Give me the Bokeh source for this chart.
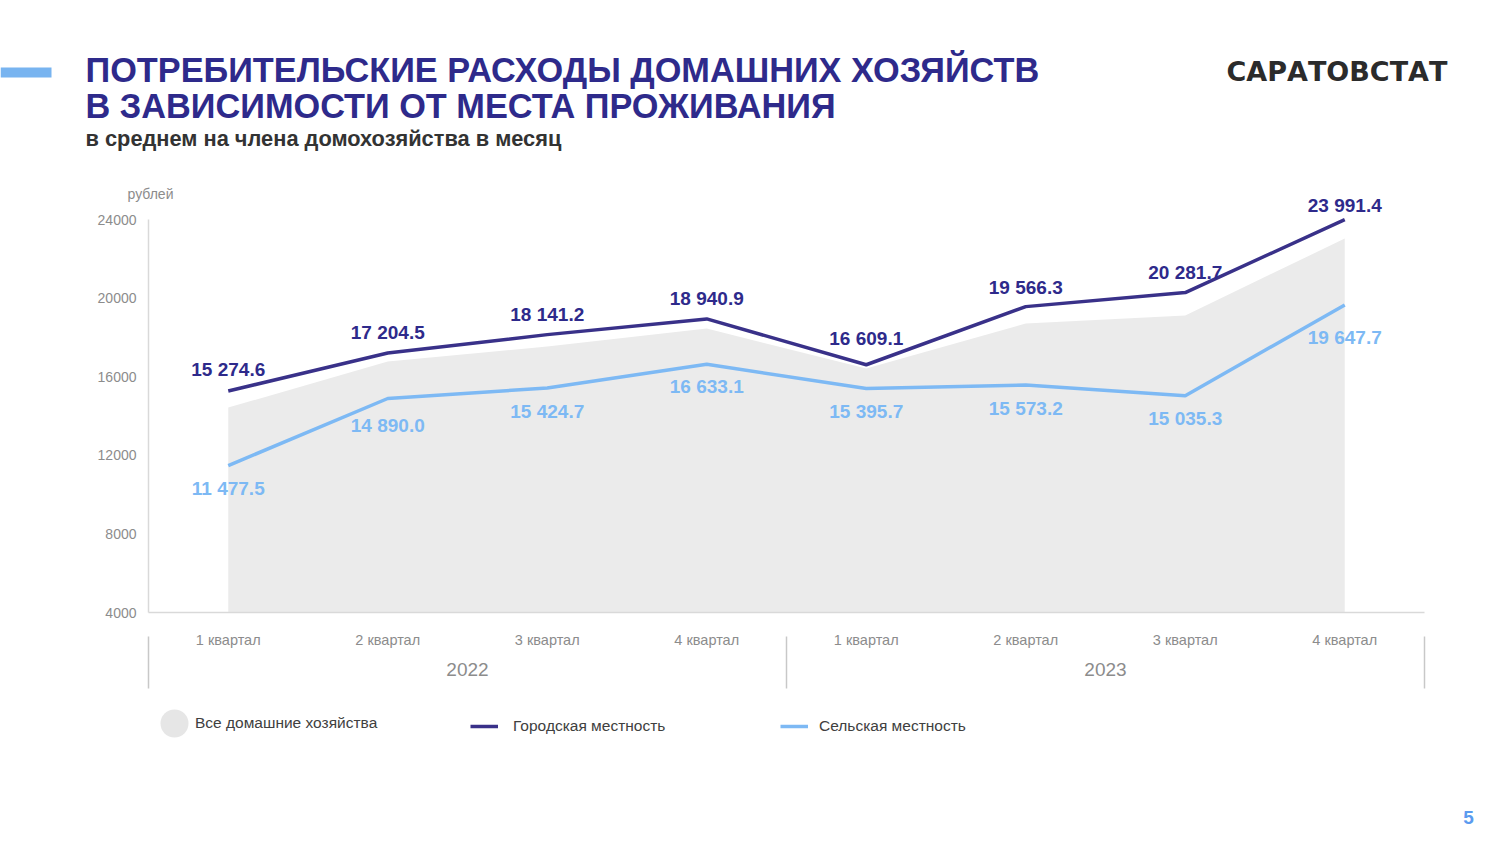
from bokeh.plotting import figure
from bokeh.models import (Range1d, FixedTicker, Label, Legend, LegendItem, LinearAxis,
                          ColumnDataSource, BoxAnnotation)
from bokeh.core.properties import value
from bokeh.embed import file_html
from bokeh.resources import INLINE

# ---------------- data ----------------
years = ["2022", "2023"]
quarters = ["1 квартал", "2 квартал", "3 квартал", "4 квартал"]
all_households = [14430, 16770, 17540, 18450, 16420, 18710, 19120, 23030]
urban = [15274.6, 17204.5, 18141.2, 18940.9, 16609.1, 19566.3, 20281.7, 23991.4]
rural = [11477.5, 14890.0, 15424.7, 16633.1, 15395.7, 15573.2, 15035.3, 19647.7]
y_ticks = [4000, 8000, 12000, 16000, 20000, 24000]

series_names = ["Все домашние хозяйства", "Городская местность", "Сельская местность"]
title_lines = ["ПОТРЕБИТЕЛЬСКИЕ РАСХОДЫ ДОМАШНИХ ХОЗЯЙСТВ", "В ЗАВИСИМОСТИ ОТ МЕСТА ПРОЖИВАНИЯ"]
subtitle = "в среднем на члена домохозяйства в месяц"
unit_label = "рублей"
brand = "САРАТОВСТАТ"
page_no = "5"

# ---------------- layout (canvas pixels) ----------------
W, H = 1484, 828
N = len(years) * len(quarters)
X0_PX, X1_PX = 148, 1424          # plot area left / right
Y_TOP_PX, Y_BOT_PX = 219, 612     # y of top / bottom tick
STEP_PX = (X1_PX - X0_PX) / N
px_per = (Y_BOT_PX - Y_TOP_PX) / (y_ticks[-1] - y_ticks[0])
x_start = -0.5 - X0_PX / STEP_PX
x_end = -0.5 + (W - X0_PX) / STEP_PX
y_start = y_ticks[0] - (H - Y_BOT_PX) / px_per
y_end = y_ticks[-1] + Y_TOP_PX / px_per

# label offsets in screen pixels (layout only)
urban_label_dy = [-21, -21, -20, -20, -26, -19, -20, -14]
rural_label_dy = [23, 27, 23, 22, 23, 23, 23, 32]


def y_at(py):
    """data y for a canvas pixel row (decorations only)"""
    return y_ticks[0] - (py - Y_BOT_PX) / px_per


def x_at(px):
    """data x for a canvas pixel column (decorations only)"""
    return -0.5 + (px - X0_PX) / STEP_PX


NAVY = "#2e2a8b"
URBAN = "#393189"
RURAL = "#7db9f4"
AREA = "#ebebeb"
GREY_TXT = "#8c8c8c"
AXIS = "#d9d9d9"
FONT = "Liberation Sans"

xs = list(range(N))
quarter_labels = [q for _ in years for q in quarters]
fmt = lambda v: f"{v:,.1f}".replace(",", " ")

src = ColumnDataSource(dict(
    x=xs,
    base=[y_ticks[0]] * N,
    all=all_households,
    urban=urban,
    rural=rural,
    ulab=[fmt(v) for v in urban],
    rlab=[fmt(v) for v in rural],
    udy=urban_label_dy,
    rdy=rural_label_dy,
))

p = figure(width=W, height=H, output_backend="svg", toolbar_location=None,
           x_range=Range1d(x_start, x_end), y_range=Range1d(y_start, y_end),
           x_axis_type=None, y_axis_type=None, title_location=None,
           min_border=0, min_border_left=0, min_border_right=0,
           min_border_top=0, min_border_bottom=0)
p.outline_line_color = None
p.background_fill_color = "white"
p.border_fill_color = "white"
p.grid.visible = False

# y axis
yax = LinearAxis(ticker=FixedTicker(ticks=y_ticks), fixed_location=-0.5,
                 bounds=(y_ticks[0], y_ticks[-1]),
                 axis_line_color=AXIS, axis_line_width=1.5,
                 major_tick_line_color=None, minor_tick_line_color=None,
                 major_tick_out=0, major_tick_in=0,
                 major_label_text_font=FONT, major_label_text_font_size="14px",
                 major_label_text_color=GREY_TXT, major_label_standoff=12)
p.add_layout(yax, "left")

# x axis: quarters
qax = LinearAxis(ticker=FixedTicker(ticks=xs), fixed_location=y_ticks[0],
                 bounds=(-0.5, N - 0.5),
                 major_label_overrides={i: q for i, q in zip(xs, quarter_labels)},
                 axis_line_color=AXIS, axis_line_width=1.5,
                 major_tick_line_color=None, minor_tick_line_color=None,
                 major_tick_out=0, major_tick_in=0,
                 major_label_text_font=FONT, major_label_text_font_size="14.5px",
                 major_label_text_color=GREY_TXT, major_label_standoff=19)
p.add_layout(qax, "below")

# x axis: years (group labels)
counts = [len(quarters)] * len(years)
edges = [-0.5]
for c in counts:
    edges.append(edges[-1] + c)
year_pos = [(edges[i] + edges[i + 1]) / 2 for i in range(len(years))]
yrax = LinearAxis(ticker=FixedTicker(ticks=year_pos), fixed_location=y_ticks[0],
                  major_label_overrides={yp: yr for yp, yr in zip(year_pos, years)},
                  axis_line_color=None, major_tick_line_color=None,
                  minor_tick_line_color=None, major_tick_out=0, major_tick_in=0,
                  major_label_text_font=FONT, major_label_text_font_size="19px",
                  major_label_text_color=GREY_TXT, major_label_standoff=50)
p.add_layout(yrax, "below")

# group separators
p.segment(x0=edges, y0=[y_at(636)] * len(edges), x1=edges, y1=[y_at(688)] * len(edges),
          line_color="#c8c8c8", line_width=1.5)

# series
area_r = p.varea(x="x", y1="base", y2="all", source=src, fill_color=AREA)
urban_r = p.line(x="x", y="urban", source=src, line_color=URBAN, line_width=3.5)
rural_r = p.line(x="x", y="rural", source=src, line_color=RURAL, line_width=3.5)

p.text(x="x", y="urban", text="ulab", source=src, y_offset="udy",
       text_align="center", text_baseline="middle",
       text_font=value(FONT), text_font_style="bold", text_font_size="19px",
       text_color=NAVY)
p.text(x="x", y="rural", text="rlab", source=src, y_offset="rdy",
       text_align="center", text_baseline="middle",
       text_font=value(FONT), text_font_style="bold", text_font_size="19px",
       text_color=RURAL)

# legend keys and legends
key_all = p.scatter(x=[x_at(174)], y=[y_at(723)], marker="circle", size=28,
                    fill_color="#e6e6e6", line_color=None)
common = dict(padding=0, margin=0, border_line_color=None, background_fill_alpha=0,
              label_text_font=FONT, label_text_font_size="15.5px",
              label_text_color="#404040")
leg1 = Legend(items=[LegendItem(label=series_names[0], renderers=[key_all])],
              location=(195, H - 733),
              glyph_width=0, glyph_height=20, label_standoff=0, **common)
leg2 = Legend(items=[LegendItem(label=series_names[1], renderers=[urban_r])],
              location=(470, H - 736),
              glyph_width=28, glyph_height=20, label_standoff=15, **common)
leg3 = Legend(items=[LegendItem(label=series_names[2], renderers=[rural_r])],
              location=(780, H - 736),
              glyph_width=28, glyph_height=20, label_standoff=11, **common)
for lg in (leg1, leg2, leg3):
    p.add_layout(lg)


def lab(text, px, py, **kw):
    return Label(x=px, y=H - py, x_units="screen", y_units="screen", text=text,
                 text_baseline="middle", **kw)


p.add_layout(lab(title_lines[0], 85, 69.5, text_font=FONT, text_font_style="bold",
                 text_font_size="34.3px", text_color=NAVY))
p.add_layout(lab(title_lines[1], 85, 105.5, text_font=FONT, text_font_style="bold",
                 text_font_size="34.3px", text_color=NAVY))
p.add_layout(lab(subtitle, 85, 138, text_font=FONT, text_font_style="bold",
                 text_font_size="21.8px", text_color="#333333"))
p.add_layout(lab(brand, 1226, 71, text_font="DejaVu Sans", text_font_style="bold",
                 text_font_size="27px", text_color="#2b2b2b"))
p.add_layout(lab(unit_label, 150, 193, text_font=FONT, text_font_size="14px",
                 text_color=GREY_TXT, text_align="center"))
p.add_layout(lab(page_no, 1468, 817, text_font=FONT, text_font_style="bold",
                 text_font_size="19px", text_color="#5b9bef", text_align="center"))

p.add_layout(BoxAnnotation(left=0, right=51, top=H - 67, bottom=H - 77,
                           left_units="screen", right_units="screen",
                           top_units="screen", bottom_units="screen",
                           fill_color="#78b4f0", fill_alpha=1, line_color=None))

open("out.html", "w").write(file_html(p, INLINE))
